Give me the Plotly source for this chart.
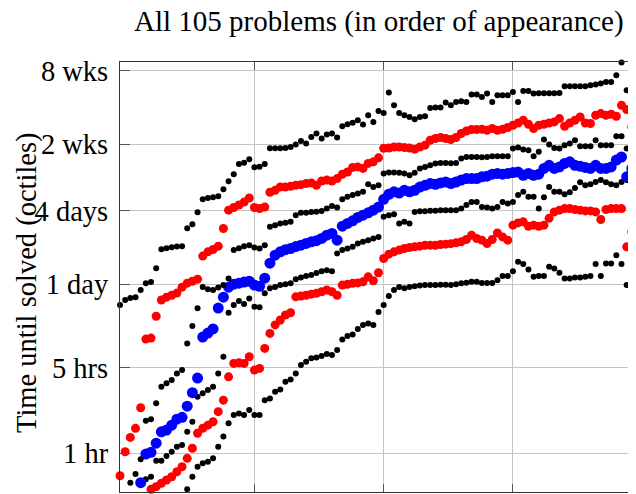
import plotly.graph_objects as go

# problem number (order of appearance); only problems 1..100 fall inside the visible window
problem = list(range(1, 101))

# solve-time octiles, in hours (None = below the visible range)
octile_1 = [None] * 13 + [
    0.508, 0.644, 0.777, 0.829, 0.854, 0.910, 1.13,
    1.37, 1.76, 2.06, 2.12, 2.06, 2.26, 2.06, 2.06, 2.72, 2.81,
    3.19, 3.33, 3.85, 4.02, 4.50, 5.26, 5.60, 5.97, 6.08, 6.23,
    6.47, 6.35, 6.98, 8.53, 9.08, 9.34, 10.4, 11.2, 11.5, 11.2,
    14.3, 16.3, 19.3, 21.6, 22.9, 22.3, 22.9, 23.2, 23.5, 23.7,
    23.7, 23.7, 23.9, 23.9, 23.7, 24.1, 24.5, 24.8, 25.2, 25.2,
    24.7, 24.7, 24.7, 26.0, 28.1, 28.1, 30.8, 36.7, 35.2, 31.8,
    27.7, 28.1, 28.1, 33.4, 32.4, 29.9, 26.9, 26.9, 27.4, 27.4,
    27.7, 28.1, 35.2, 28.1, 35.6, 35.6, 41.6, 35.2, 23.7, 26.9]

octile_2 = [
    None, None, None, None, None, None, 0.508, 0.534, 0.569, 0.605,
    0.644, 0.707, 0.777, 0.910, 1.10, 1.46, 1.60, 1.70, 1.81, 2.19,
    2.72, 4.22, 5.43, 5.50, 5.43, 6.15, 4.79, 4.94, 7.20, 9.55,
    11.2, 12.3, 13.5, 14.1, 19.0, 19.3, 19.6, 20.0, 20.3, 20.9,
    21.6, 20.9, 19.6, 23.7, 24.1, 24.5, 24.7, 25.2, 27.7, 25.7,
    29.9, 39.1, 42.4, 44.3, 45.8, 47.2, 48.1, 48.7, 49.3, 50.2,
    50.2, 50.2, 50.9, 51.2, 51.7, 52.5, 53.5, 55.9, 60.7, 57.0,
    55.2, 51.9, 55.9, 63.3, 58.7, 55.2, 73.2, 76.4, 77.9, 71.8,
    73.2, 71.8, 73.2, 83.5, 94.0, 97.1, 100, 100, 98.3, 97.1,
    95.8, 95.8, 94.0, 81.5, 98.3, 100, 100, 100, 48.7, 64.5]

octile_3 = [
    None, None, None, None, None, 0.613, 0.644, 0.870, 0.870, 0.951,
    1.03, 1.13, 1.17, 1.50, 1.81, 2.90, 3.09, 3.29, 3.50, 4.50,
    6.15, 14.1, 16.3, 17.6, 16.6, 18.4, 15.8, 15.6, 20.3, 22.3,
    22.9, 23.7, 24.1, 24.5, 26.5, 27.4, 28.1, 28.6, 29.7, 30.8,
    31.4, 30.8, 43.0, 45.8, 47.2, 48.7, 51.9, 53.5, 55.2, 57.0,
    58.7, 85.6, 88.4, 90.0, 75.6, 77.9, 75.6, 94.0, 95.3, 95.3,
    96.2, 96.2, 97.1, 97.1, 97.1, 97.1, 100, 107, 113, 113,
    103, 102, 100, 103, 113, 110, 113, 129, 137, 125,
    125, 100, 124, 150, 137, 137, 131, 136, 147, 164,
    155, 158, 165, 171, 164, 158, 155, 165, 171, 187]

median = [
    None, None, None, None, 0.575, 0.987, 1.02, 1.21, 1.50, 1.55,
    1.70, 1.90, 1.97, 2.43, 3.13, 4.12, 8.91, 9.61, 10.4, 15.4,
    18.9, 22.8, 24.1, 24.6, 25.1, 25.5, 23.7, 23.2, 27.0, 35.8,
    41.6, 44.3, 46.2, 47.2, 48.9, 50.2, 51.9, 53.5, 54.7, 57.0,
    60.7, 62.6, 55.2, 71.8, 75.6, 79.4, 84.6, 88.4, 92.3, 97.1,
    103, 119, 131, 137, 134, 141, 137, 141, 150, 155,
    160, 158, 162, 165, 160, 165, 171, 176, 176, 176,
    182, 184, 191, 194, 191, 194, 197, 199, 187, 194,
    187, 191, 213, 226, 213, 219, 234, 241, 226, 222,
    217, 213, 226, 213, 213, 219, 249, 264, 182, 213]

octile_5 = [
    None, None, 0.575, 0.678, 0.893, 1.85, 1.90, 2.56, 3.50, 3.73,
    3.97, 4.50, 4.79, 7.91, 11.0, 15.3, 22.9, 21.9, 21.6, 22.7,
    23.7, 26.9, 45.8, 47.5, 49.3, 50.2, 48.1, 47.2, 50.2, 70.9,
    73.2, 75.6, 76.7, 77.9, 88.4, 92.3, 92.3, 94.0, 94.4, 95.8,
    100, 105, 102, 119, 125, 129, 133, 137, 158, 150,
    155, 194, 197, 197, 196, 194, 187, 196, 213, 219,
    226, 234, 236, 236, 235, 236, 257, 264, 264, 264,
    263, 264, 268, 268, 268, 268, 310, 316, 304, 300,
    268, 291, 367, 334, 313, 310, 330, 340, 362, 323,
    323, 323, 362, 330, 330, 330, 390, 390, 310, 300]

octile_6 = [
    0.656, 1.03, 1.35, 1.60, 2.36, 8.58, 8.74, 13.2, 17.9, 18.9,
    19.6, 20.4, 22.8, 24.6, 25.5, 26.5, 40.9, 44.3, 46.3, 49.3,
    68.8, 97.1, 102, 107, 113, 122, 102, 100, 103, 136,
    141, 150, 150, 152, 155, 157, 160, 162, 155, 168,
    171, 168, 176, 191, 199, 217, 219, 213, 234, 241,
    260, 311, 313, 319, 319, 316, 313, 306, 319, 330,
    362, 374, 381, 374, 367, 381, 411, 431, 443, 443,
    445, 437, 451, 437, 445, 460, 480, 501, 527, 489,
    451, 480, 489, 501, 511, 544, 471, 501, 527, 561,
    501, 496, 579, 598, 579, 590, 568, 699, 645, 465]

octile_7 = [
    16.3, 17.9, 18.6, 18.9, 21.6, 24.6, 25.1, 32.6, 46.6, 47.5,
    48.4, 48.9, 49.3, 69.2, 74.6, 93.5, 119, 122, 124, 126,
    144, 167, 191, 231, 237, 253, 218, 220, 231, 311,
    311, 311, 313, 319, 334, 357, 340, 385, 411, 374,
    403, 411, 381, 471, 489, 503, 527, 486, 579, 511,
    628, 605, 888, 699, 605, 579, 561, 537, 561, 568,
    665, 670, 670, 736, 699, 744, 754, 744, 855, 855,
    817, 871, 744, 844, 844, 844, 898, 744, 915, 915,
    871, 876, 876, 876, 876, 881, 999, 999, 999, 999,
    999, 1018, 1032, 1051, 1084, 1084, 1229, 1561, 927, 1005]

tick_hours = [1, 5, 24, 96, 336, 1344]
tick_labels = ["1 hr", "5 hrs", "1 day", "4 days", "2 wks", "8 wks"]
x_grid = [27, 52, 77]

series = [
    (octile_1, "#000000", 6),
    (octile_2, "#ff0000", 9),
    (octile_3, "#000000", 6),
    (median, "#0000ff", 11),
    (octile_5, "#000000", 6),
    (octile_6, "#ff0000", 9),
    (octile_7, "#000000", 6),
]

FONT = "Liberation Serif"
FS = 28.5

fig = go.Figure()
for vals, color, size in series:
    fig.add_trace(go.Scatter(
        x=problem, y=vals, mode="markers",
        marker=dict(color=color, size=size, line=dict(width=0)),
        cliponaxis=False, showlegend=False, hoverinfo="skip"))

# the page body has an 8px margin; the figure is laid out so the visible
# window shows the axes where the reference has them
OFF = 8
W, H = 636, 494
ML, MT, MR, MB = 120 - OFF, 62 - OFF, 6, 10
PW = W - ML - MR
PH = H - MT - MB

fig.update_layout(
    width=W, height=H,
    margin=dict(l=ML, r=MR, t=MT, b=MB, pad=0),
    plot_bgcolor="white", paper_bgcolor="white",
    font=dict(family=FONT, size=FS, color="black"),
    showlegend=False,
)
fig.update_xaxes(
    range=[1, 1 + PW / 5.17],
    tickvals=x_grid, showticklabels=False,
    showgrid=True, gridcolor="#c4c4c4", gridwidth=1,
    ticks="inside", ticklen=8, tickwidth=1, tickcolor="#555555",
    showline=True, linecolor="#333333", linewidth=1.2, mirror="ticks",
    zeroline=False, automargin=False,
)
fig.update_yaxes(
    type="log", range=[-0.31605, 3.19804],
    tickvals=tick_hours, ticktext=tick_labels,
    showgrid=True, gridcolor="#c4c4c4", gridwidth=1,
    ticks="inside", ticklen=10, tickwidth=1, tickcolor="#555555",
    showline=True, linecolor="#333333", linewidth=1.2, mirror="ticks",
    ticklabelstandoff=5,
    tickfont=dict(family=FONT, size=FS, color="black"),
    zeroline=False, automargin=False,
)
# title, centred over the plot area
fig.add_annotation(
    text="All 105 problems (in order of appearance)",
    xref="paper", yref="paper",
    x=0.5, y=(H - MB - (21 - OFF)) / PH,
    showarrow=False, xanchor="center", yanchor="middle",
    font=dict(family=FONT, size=29, color="black"),
)
fig.add_annotation(
    text="Time until solved (octiles)",
    xref="paper", yref="paper",
    x=(27 - OFF - ML) / PW, y=(H - MB - (283 - OFF)) / PH,
    textangle=-90, showarrow=False, xanchor="center", yanchor="middle",
    font=dict(family=FONT, size=FS, color="black"),
)

fig.write_html("out.html")
